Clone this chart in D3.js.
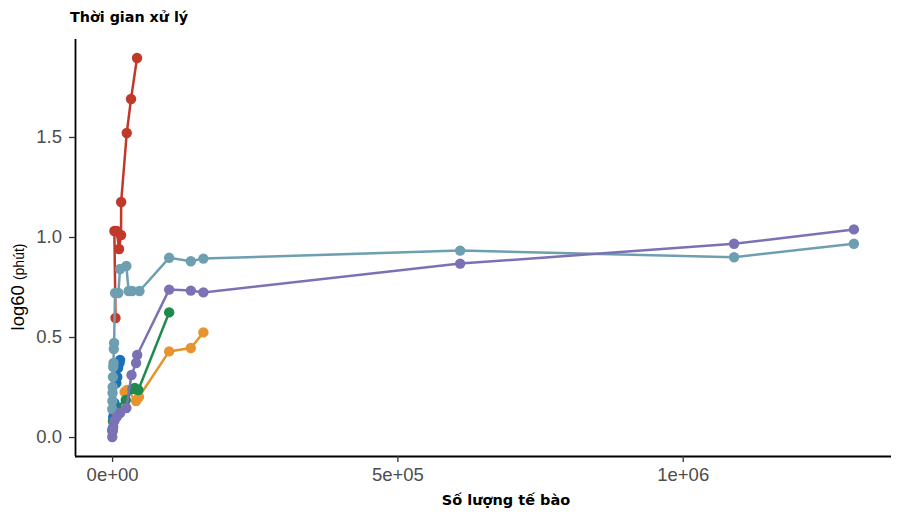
<!DOCTYPE html>
<html>
<head>
<meta charset="utf-8">
<script src="https://cdn.jsdelivr.net/npm/d3@7"></script>
<style>
  html, body { margin: 0; padding: 0; background: #fff; }
  svg { display: block; }
</style>
</head>
<body>
<svg id="chart" width="918" height="517"></svg>
<script>
// ---- Data ----
const xTicks = [0, 500000, 1000000];
const xTickLabels = ["0e+00", "5e+05", "1e+06"];
const yTicks = [0.0, 0.5, 1.0, 1.5];
const yTickLabels = ["0.0", "0.5", "1.0", "1.5"];

const orangeX = [22000, 26000, 42000, 47000, 100000, 138000, 160000];
const orangeY = [0.225, 0.235, 0.18, 0.20, 0.428, 0.445, 0.523];

const greenX = [500, 1500, 3000, 8000, 24000, 36000, 40000, 46000, 100000];
const greenY = [0.03, 0.08, 0.125, 0.15, 0.185, 0.24, 0.245, 0.235, 0.623];

const redX = [6000, 4000, 8200, 12200, 15700, 15900, 25700, 33200, 43700];
const redY = [0.595, 1.03, 1.03, 0.94, 1.01, 1.175, 1.52, 1.69, 1.895];

const blueX = [800, 2000, 4000, 7500, 9000, 10500, 13000, 14000];
const blueY = [0.04, 0.10, 0.17, 0.27, 0.30, 0.345, 0.37, 0.386];

const tealX = [300, 500, 800, 1000, 1500, 2000, 2500, 3000, 3500, 5200, 11000, 14000, 25000, 29000, 35000, 48000, 100000, 138000, 160000, 610000, 1090000, 1300000];
const tealY = [0.14, 0.18, 0.22, 0.25, 0.30, 0.35, 0.37, 0.44, 0.47, 0.72, 0.72, 0.84, 0.855, 0.73, 0.73, 0.73, 0.896, 0.879, 0.892, 0.932, 0.899, 0.966];

const purpleX = [300, 1000, 2000, 4000, 8000, 14000, 25000, 34000, 42000, 44000, 100000, 138000, 160000, 610000, 1090000, 1300000];
const purpleY = [0.0, 0.03, 0.05, 0.08, 0.10, 0.12, 0.145, 0.31, 0.37, 0.41, 0.737, 0.732, 0.723, 0.867, 0.966, 1.038];

const seriesNames = ["orange", "green", "red", "blue", "teal", "purple"];
const seriesColors = ["#E69330", "#1E8B4C", "#C0392B", "#1B70B8", "#6E9FB1", "#7B72B6"];
const seriesX = [orangeX, greenX, redX, blueX, tealX, purpleX];
const seriesY = [orangeY, greenY, redY, blueY, tealY, purpleY];

// ---- Layout ----
const svg = d3.select("#chart");
const mLeft = 75, mRight = 891, mTop = 39, mBottom = 456;

const xMin = 0, xMax = 1300000;
const xPad = (xMax - xMin) * 0.05;
const x = d3.scaleLinear().domain([xMin - xPad, xMax + xPad]).range([mLeft, mRight]);
const yMin = 0, yMax = 1.895;
const yPad = (yMax - yMin) * 0.05;
const y = d3.scaleLinear().domain([yMin - yPad, yMax + yPad]).range([mBottom, mTop]);

// Series
const line = d3.line().x(d => x(d[0])).y(d => y(d[1]));
seriesNames.forEach((name, i) => {
  const pts = seriesX[i].map((v, j) => [v, seriesY[i][j]]);
  const g = svg.append("g").attr("class", "series-" + name);
  g.append("path").datum(pts)
    .attr("d", line)
    .attr("fill", "none")
    .attr("stroke", seriesColors[i])
    .attr("stroke-width", 2.5);
  g.selectAll("circle").data(pts).join("circle")
    .attr("cx", d => x(d[0]))
    .attr("cy", d => y(d[1]))
    .attr("r", 5.2)
    .attr("fill", seriesColors[i]);
});

// Axes
const xAxis = d3.axisBottom(x).tickValues(xTicks).tickFormat((d, i) => xTickLabels[i]).tickSize(6).tickPadding(6);
const yAxis = d3.axisLeft(y).tickValues(yTicks).tickFormat((d, i) => yTickLabels[i]).tickSize(6).tickPadding(7);

const gx = svg.append("g").attr("transform", `translate(0,${mBottom})`).call(xAxis);
const gy = svg.append("g").attr("transform", `translate(${mLeft},0)`).call(yAxis);
[gx, gy].forEach(g => {
  g.select(".domain").attr("stroke", "#000").attr("stroke-width", 1.8);
  g.selectAll(".tick line").attr("stroke", "#333").attr("stroke-width", 1.3);
  g.selectAll(".tick text")
    .attr("fill", "#4D4D4D")
    .style("font-family", "'Liberation Sans', Arial, sans-serif")
    .style("font-size", "18.5px");
});
gx.select(".domain").attr("d", `M${mLeft},0.5H${mRight}`);
gy.select(".domain").attr("d", `M0.5,${mTop}V${mBottom}`);

// Titles
svg.append("text")
  .attr("x", 70).attr("y", 22)
  .style("font-family", "'DejaVu Sans', sans-serif")
  .style("font-weight", "bold")
  .style("font-size", "14.3px")
  .attr("fill", "#000")
  .text("Thời gian xử lý");

svg.append("text")
  .attr("x", 506).attr("y", 505)
  .attr("text-anchor", "middle")
  .style("font-family", "'DejaVu Sans', sans-serif")
  .style("font-weight", "bold")
  .style("font-size", "14.5px")
  .attr("fill", "#000")
  .text("Số lượng tế bào");

const yl = svg.append("text")
  .attr("transform", "translate(24,287) rotate(-90)")
  .attr("text-anchor", "middle")
  .style("font-family", "'Liberation Sans', Arial, sans-serif")
  .attr("fill", "#000");
yl.append("tspan").style("font-size", "18.5px").text("log60 ");
yl.append("tspan").style("font-size", "14px").text("(phút)");
</script>
</body>
</html>
